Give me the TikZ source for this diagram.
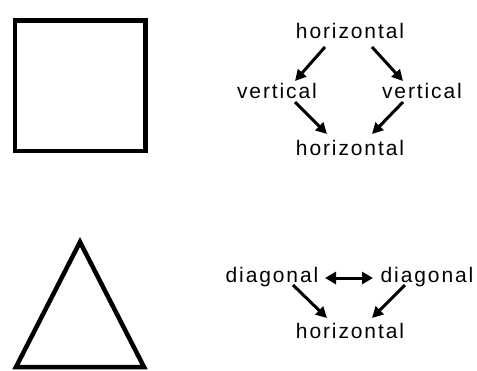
\documentclass[tikz,border=0pt]{standalone}
\usepackage{fontspec}
\setmainfont[LetterSpace=9]{Liberation Sans}
\usetikzlibrary{calc,arrows.meta}
\begin{document}
\begin{tikzpicture}[x=1pt,y=-1pt,
  lbl/.style={inner sep=0pt,anchor=base,font=\fontsize{21}{23}\selectfont},
  arr/.style={line width=3pt,-{Triangle[length=11pt,width=11pt]}},
  darr/.style={line width=3pt,{Triangle[length=11pt,width=12pt]}-{Triangle[length=11pt,width=12pt]}},
  figline/.style={line width=4.5pt}]
\useasboundingbox (0,0) rectangle (477,370);
% square and triangle
\draw[figline] (15,20.5) rectangle (145.5,151);
\draw[figline,line join=miter] (80,242) -- (144,367) -- (16,367) -- cycle;
% top diagram
\node[lbl] (h1) at (350,38) {horizontal};
\node[lbl] (v1) at (277,98) {vertical};
\node[lbl] (v2) at (422,98) {vertical};
\node[lbl] (h2) at (350,155) {horizontal};
\draw[arr] ($(h1.base)+(-25,9)$) -- ($(v1.base)+(18,-17)$);
\draw[arr] ($(h1.base)+(22,9)$) -- ($(v2.base)+(-19,-17)$);
\draw[arr] ($(v1.base)+(18,4)$) -- ($(h2.base)+(-23,-21)$);
\draw[arr] ($(v2.base)+(-19,4)$) -- ($(h2.base)+(22,-21)$);
% bottom diagram
\node[lbl] (d1) at (272,282) {diagonal};
\node[lbl] (d2) at (427,282) {diagonal};
\node[lbl] (h3) at (350,338) {horizontal};
\draw[darr] ($(d1.base)+(53,-4)$) -- ($(d2.base)+(-54,-4)$);
\draw[arr] ($(d1.base)+(21,3)$) -- ($(h3.base)+(-23,-20)$);
\draw[arr] ($(d2.base)+(-22,3)$) -- ($(h3.base)+(22,-20)$);
\end{tikzpicture}
\end{document}
